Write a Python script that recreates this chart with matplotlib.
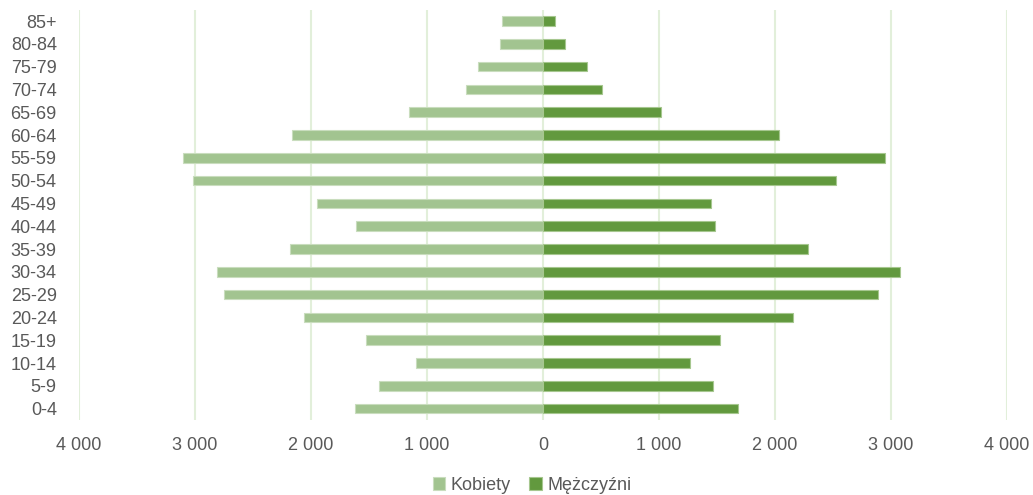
import matplotlib
matplotlib.use("Agg")
import matplotlib.pyplot as plt
from matplotlib.ticker import FuncFormatter, MultipleLocator

# age groups, youngest first (bottom of the pyramid)
age_groups = ["0-4", "5-9", "10-14", "15-19", "20-24", "25-29", "30-34", "35-39",
              "40-44", "45-49", "50-54", "55-59", "60-64", "65-69", "70-74",
              "75-79", "80-84", "85+"]
kobiety = [1620, 1415, 1095, 1530, 2060, 2750, 2815, 2180, 1610, 1945,
           3015, 3100, 2160, 1160, 665, 565, 370, 350]
mezczyzni = [1680, 1465, 1270, 1525, 2155, 2885, 3075, 2280, 1485, 1445,
             2525, 2950, 2035, 1020, 505, 380, 185, 105]

women_color = "#A2C490"
men_color = "#62993E"
grid_color = "#E2EFDA"
text_color = "#595959"

plt.rcParams["font.family"] = ["Liberation Sans", "DejaVu Sans"]

fig = plt.figure(figsize=(10.33, 4.95), dpi=100)
ax = fig.add_axes([0.0765, 0.1515, 0.8985, 0.829])

y = range(len(age_groups))
ax.barh(y, [-v for v in kobiety], height=0.42, color=women_color,
        edgecolor="#C9DDBE", linewidth=0.8, label="Kobiety", zorder=3)
ax.barh(y, mezczyzni, height=0.42, color=men_color,
        edgecolor="#A6C78F", linewidth=0.8, label="Mężczyźni", zorder=3)

ax.set_xlim(-4000, 4000)
ax.set_ylim(-0.5, len(age_groups) - 0.5)
ax.xaxis.set_major_locator(MultipleLocator(1000))
ax.xaxis.set_major_formatter(
    FuncFormatter(lambda v, _: f"{abs(int(round(v))):,}".replace(",", " ")))
ax.set_yticks(list(y))
ax.set_yticklabels(age_groups)

ax.grid(axis="x", color=grid_color, linewidth=1.5, zorder=0)
ax.grid(axis="y", visible=False)
for s in ax.spines.values():
    s.set_visible(False)
ax.tick_params(axis="both", length=0, labelsize=13, colors=text_color)
ax.tick_params(axis="y", pad=16)
ax.tick_params(axis="x", pad=12)

fig.legend(loc="center", bbox_to_anchor=(0.515, 0.02), ncol=2, frameon=False,
           fontsize=13, labelcolor=text_color, handlelength=0.7,
           handleheight=0.7, handletextpad=0.3, columnspacing=1.0)

fig.savefig("out.png", dpi=100, facecolor="white")
